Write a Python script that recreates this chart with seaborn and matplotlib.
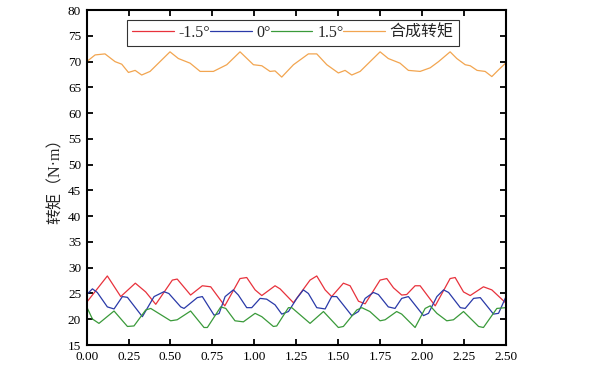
import pandas as pd
import seaborn as sns
import matplotlib
matplotlib.use("Agg")
import matplotlib.pyplot as plt

# time (s) and torque (N·m)
red_t = [0.0, 0.123, 0.203, 0.29, 0.352, 0.412, 0.511, 0.54, 0.62, 0.69, 0.74, 0.824,
         0.915, 0.955, 1.005, 1.045, 1.124, 1.154, 1.234, 1.333, 1.373, 1.423, 1.462,
         1.532, 1.572, 1.622, 1.662, 1.751, 1.791, 1.831, 1.88, 1.91, 1.96, 1.99, 2.08,
         2.169, 2.199, 2.249, 2.289, 2.368, 2.418, 2.5]
red_v = [23.3, 28.4, 24.4, 27.0, 25.3, 22.9, 27.6, 27.8, 24.7, 26.5, 26.3, 22.6,
         27.9, 28.1, 25.7, 24.6, 26.5, 25.9, 23.2, 27.6, 28.4, 25.7, 24.4,
         27.0, 26.5, 23.5, 23.0, 27.6, 27.9, 26.1, 24.7, 24.8, 26.5, 26.5, 22.6,
         27.9, 28.1, 25.3, 24.6, 26.3, 25.7, 23.2]

blue_t = [0.0, 0.034, 0.063, 0.123, 0.163, 0.213, 0.243, 0.332, 0.402, 0.461, 0.49,
          0.561, 0.581, 0.66, 0.69, 0.76, 0.79, 0.826, 0.875, 0.905, 0.955, 0.985,
          1.035, 1.074, 1.124, 1.164, 1.204, 1.254, 1.293, 1.323, 1.373, 1.423, 1.462,
          1.492, 1.582, 1.622, 1.662, 1.711, 1.741, 1.80, 1.84, 1.88, 1.92, 2.01, 2.04,
          2.09, 2.13, 2.16, 2.23, 2.259, 2.309, 2.349, 2.428, 2.458, 2.5]
blue_v = [24.8, 25.9, 25.2, 22.4, 22.0, 24.4, 24.25, 20.5, 24.4, 25.35, 25.0,
          22.4, 22.1, 24.2, 24.4, 20.8, 21.1, 24.4, 25.7, 24.7, 22.25, 22.25,
          24.05, 23.9, 22.8, 21.0, 21.5, 24.05, 25.7, 25.0, 22.25, 22.0, 24.4,
          24.4, 20.7, 21.5, 24.05, 25.2, 24.8, 22.4, 22.1, 24.05, 24.4, 20.7, 21.15,
          24.4, 25.7, 25.2, 22.25, 22.1, 24.05, 24.2, 21.0, 21.15, 24.2]

green_t = [0.0, 0.034, 0.073, 0.163, 0.243, 0.282, 0.352, 0.382, 0.501, 0.54, 0.62,
           0.70, 0.72, 0.80, 0.83, 0.885, 0.935, 1.005, 1.045, 1.114, 1.134, 1.204,
           1.224, 1.333, 1.413, 1.502, 1.532, 1.612, 1.642, 1.69, 1.751, 1.781, 1.85,
           1.88, 1.96, 2.02, 2.05, 2.09, 2.149, 2.189, 2.249, 2.339, 2.368, 2.448, 2.5]
green_v = [22.4, 20.05, 19.2, 21.6, 18.6, 18.7, 21.8, 22.1, 19.7, 19.9, 21.6,
           18.4, 18.4, 22.4, 22.1, 19.7, 19.5, 21.15, 20.5, 18.6, 18.7, 22.25,
           22.25, 19.2, 21.5, 18.4, 18.6, 21.8, 22.25, 21.5, 19.7, 19.9, 21.5,
           21.0, 18.4, 22.1, 22.6, 21.15, 19.7, 19.9, 21.5, 18.6, 18.4, 22.1, 22.25]

orange_t = [0.0, 0.05, 0.109, 0.169, 0.209, 0.249, 0.289, 0.328, 0.378, 0.497, 0.547,
            0.617, 0.677, 0.756, 0.836, 0.915, 0.995, 1.045, 1.094, 1.124, 1.164,
            1.234, 1.323, 1.373, 1.433, 1.502, 1.542, 1.582, 1.632, 1.751, 1.80,
            1.87, 1.92, 1.99, 2.05, 2.10, 2.169, 2.209, 2.259, 2.289, 2.33, 2.378,
            2.418, 2.458, 2.5]
orange_v = [70.0, 71.3, 71.5, 70.0, 69.5, 67.9, 68.3, 67.4, 68.1, 71.9, 70.6,
            69.7, 68.1, 68.1, 69.4, 71.9, 69.4, 69.2, 68.1, 68.2, 67.0,
            69.4, 71.5, 71.5, 69.4, 67.8, 68.3, 67.4, 68.1, 71.9, 70.6,
            69.7, 68.3, 68.1, 68.8, 70.0, 71.9, 70.6, 69.4, 69.2, 68.3, 68.1,
            67.1, 68.4, 69.7]

labels = ["-1.5°", "0°", "1.5°", "合成转矩"]
line_colors = ["#e8323c", "#2a3aa8", "#3a9a3a", "#f2a550"]

frames = []
for name, t, v in zip(labels, [red_t, blue_t, green_t, orange_t],
                      [red_v, blue_v, green_v, orange_v]):
    frames.append(pd.DataFrame({"t": t, "torque": v, "series": name}))
df = pd.concat(frames, ignore_index=True)

sns.set_theme(style="ticks")
plt.rcParams["font.family"] = ["Liberation Serif", "Noto Sans CJK SC"]
plt.rcParams["axes.unicode_minus"] = False

fig = plt.figure(figsize=(5.92, 3.74), dpi=100)
ax = fig.add_axes([0.1465, 0.0775, 0.7075, 0.8955])

sns.lineplot(data=df, x="t", y="torque", hue="series", hue_order=labels,
             palette=line_colors, estimator=None, linewidth=0.9, ax=ax)

ax.set_xlim(0, 2.5)
ax.set_ylim(15, 80)
ax.set_xticks([i * 0.25 for i in range(11)])
ax.set_xticklabels([f"{i * 0.25:.2f}" for i in range(11)])
ax.set_yticks(range(15, 81, 5))
ax.set_xlabel("")
ax.set_ylabel("转矩（N·m）", fontsize=11.5, labelpad=3)

ax.tick_params(direction="in", length=4, width=1.3, top=True, right=True,
               labelsize=9.5, colors="black", pad=4)
for side in ax.spines.values():
    side.set_linewidth(1.5)
    side.set_color("black")

leg = ax.legend(loc="upper center", bbox_to_anchor=(0.4926, 0.97), ncol=4,
                fontsize=11.5, handlelength=2.6, handletextpad=0.3,
                columnspacing=0.0, borderaxespad=0, borderpad=0.3,
                frameon=True, fancybox=False, edgecolor="black")
leg.get_frame().set_linewidth(0.8)
for h in leg.get_lines():
    h.set_linewidth(0.9)

fig.savefig("out.png", dpi=100)
